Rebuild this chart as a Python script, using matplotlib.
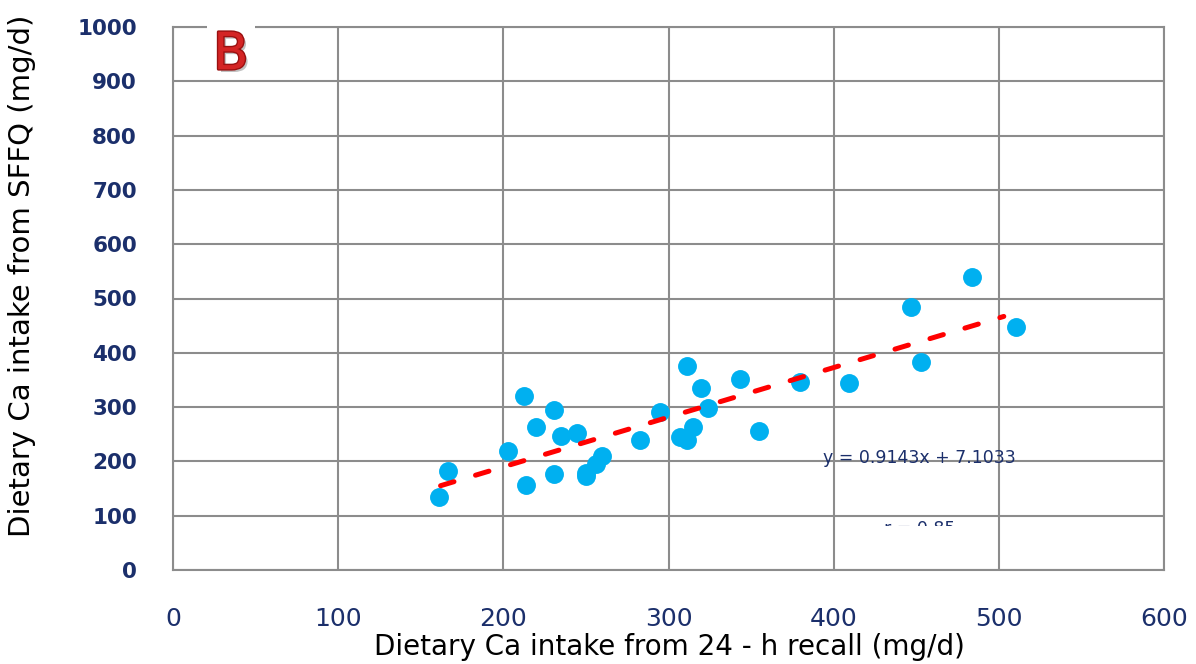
import matplotlib
matplotlib.use("Agg")
import matplotlib.pyplot as plt
import matplotlib.patheffects as pe
from matplotlib import font_manager
from matplotlib.patches import Rectangle

# data
recall_24h = [161, 166.5, 203, 212.5, 213.5, 220, 230.6, 230.6, 235, 244.5,
              250, 250, 256, 259.5, 282.7, 294.8, 307, 311.4, 311.3, 314.8,
              319.4, 324, 343.4, 354.5, 379.5, 409, 446.9, 453, 483.7, 510.3]
sffq = [134, 182, 219, 320, 157, 263, 295, 177, 247, 252,
        179, 173, 195, 210.5, 239.4, 291, 245, 239.4, 375.7, 263,
        334.6, 299, 351.7, 256.5, 346.8, 343.8, 485, 383.6, 540, 447.5]

slope = 0.9143
intercept = 7.1033
trend_x = [162, 503]
r_value = 0.85

x_ticks = [0, 100, 200, 300, 400, 500, 600]
y_ticks = [0, 100, 200, 300, 400, 500, 600, 700, 800, 900, 1000]

navy = "#1b2f6b"
grid_gray = "#8c8c8c"

names = {f.name for f in font_manager.fontManager.ttflist}
narrow = "Liberation Sans Narrow" if "Liberation Sans Narrow" in names else "DejaVu Sans"

fig = plt.figure(figsize=(11.96, 6.64), dpi=100)
ax = fig.add_axes([173 / 1196, 1 - 570 / 664, (1164 - 173) / 1196, (570 - 27) / 664])

ax.set_xlim(0, 600)
ax.set_ylim(0, 1000)
ax.set_xticks(x_ticks)
ax.set_yticks(y_ticks)
ax.grid(True, color=grid_gray, linewidth=1.5)
ax.set_axisbelow(True)
for s in ax.spines.values():
    s.set_color(grid_gray)
    s.set_linewidth(1.5)
ax.tick_params(length=0)
ax.tick_params(axis="y", pad=26, labelsize=15.5, labelcolor=navy)
ax.tick_params(axis="x", pad=27, labelsize=18, labelcolor=navy)
for t in ax.get_yticklabels():
    t.set_fontweight("bold")
for t in ax.get_xticklabels():
    t.set_family(narrow)

# scatter + trend line
ax.scatter(recall_24h, sffq, s=185, color="#00b0f0", zorder=3, linewidths=0)
trend_y = [slope * v + intercept for v in trend_x]
ax.plot(trend_x, trend_y, color="red", linestyle=(0, (2.8, 4.5)), linewidth=3.6,
        zorder=4, dash_capstyle="round")

ax.text(393.5, 206, "y = 0.9143x + 7.1033", color=navy, fontsize=12.5,
        va="center", ha="left")

# r text, mostly hidden in the reference
rt = ax.text(473.5, 93, "r = %.2f" % r_value, color=navy, fontsize=12.5,
             va="top", ha="right", clip_on=True)
clip = Rectangle((400, 81), 100, 15, transform=ax.transData)
rt.set_clip_path(clip)

# panel letter, its white box breaks the top border
ax.add_patch(Rectangle((20.6, 985), 29, 25, facecolor="white", edgecolor="none",
                       clip_on=False, zorder=4))
ax.text(35, 948, "B", fontsize=37, color="#d42424", va="center", ha="center",
        path_effects=[pe.SimplePatchShadow(offset=(2, -2), shadow_rgbFace="#999999", alpha=0.6),
                      pe.withStroke(linewidth=2, foreground="#9a1010")],
        zorder=5)

fig.text(669 / 1196, 1 - 647 / 664, "Dietary Ca intake from 24 - h recall (mg/d)",
         fontsize=20, family=narrow, ha="center", va="center")
fig.text(22 / 1196, 1 - 276 / 664, "Dietary Ca intake from SFFQ (mg/d)",
         fontsize=21, rotation=90, ha="center", va="center")

fig.savefig("out.png", dpi=100)
